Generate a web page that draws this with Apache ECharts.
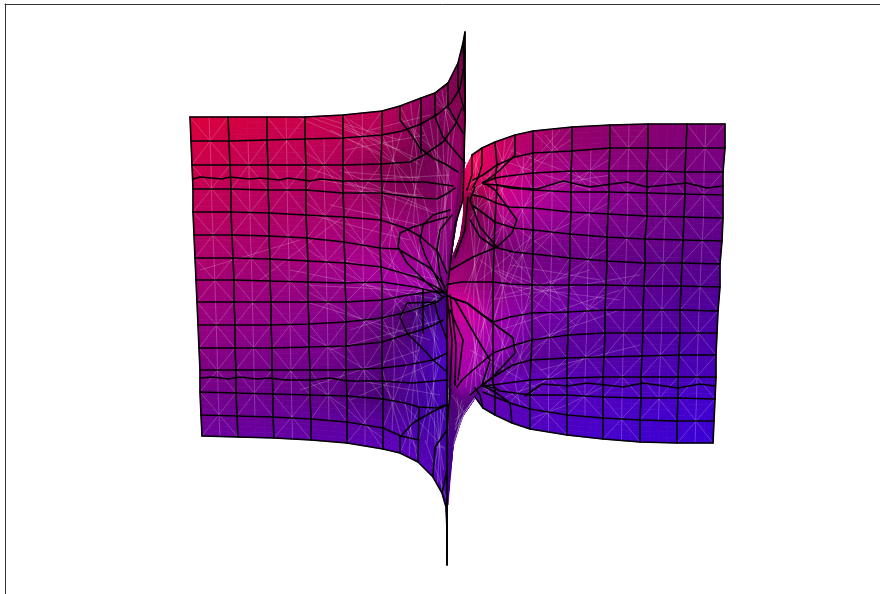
<!DOCTYPE html>
<html><head><meta charset="utf-8">
<style>html,body{margin:0;padding:0;background:#fff}#c{width:880px;height:594px}</style>
<script src="https://cdn.jsdelivr.net/npm/echarts@6/dist/echarts.min.js"></script>
</head><body><div id="c"></div>
<script>
const leftX=[
[190,228,267,305,343,382,400,421,435,448,458,463,465],
[191,229,267,305,343,382,402,421,438,451,460,464,465],
[192,230,268,306,343,381,410,424,443,455,462,465,465],
[193,231,268,306,343,382,410,437,448,455,460,464,463],
[193,231,269,306,344,381,405,421,438,447,447,448,455],
[194,232,269,307,344,380,398,430,440,445,446,447,451],
[195,233,270,308,345,381,416,436,442,445,446,447,449],
[196,234,270,308,345,382,415,435,444,446,446,447,447],
[197,234,271,308,346,382,408,423,437,444,446,447,447],
[198,235,271,309,346,382,403,422,437,445,446,447,447],
[199,235,272,309,346,382,411,424,436,443,446,447,447],
[200,236,272,310,346,382,407,433,441,447,447,447,447],
[200,236,273,310,347,383,405,419,437,445,447,447,447],
[201,237,273,311,347,383,401,419,435,445,447,447,447],
[202,238,274,311,347,383,400,418,433,442,446,447,447]];
const leftY=[
[117,117,117,117,115,111,106,98,93,83,63,43,32],
[141,141,140,139,138,135,131,124,114,103,88,66,50],
[165,165,165,165,165,164,162,155,142,125,108,90,120],
[189,189,190,190,193,193,197,199,193,188,170,150,200],
[212,212,213,215,217,220,228,237,252,273,279,283,225],
[235,235,236,238,242,248,249,268,280,287,290,291,258],
[258,258,259,261,263,267,277,287,291,294,294,294,275],
[280,280,281,282,283,282,287,292,293,292,292,292,291],
[302,302,302,302,302,300,295,293,291,291,292,293,295],
[325,325,325,324,322,318,313,307,302,296,296,297,300],
[348,348,348,347,346,342,333,329,324,320,316,314,320],
[370,370,370,370,370,368,365,360,356,353,350,348,350],
[392,393,394,395,396,399,403,407,408,405,403,403,400],
[415,416,417,419,422,428,436,440,447,447,450,470,480],
[436,437,438,440,443,449,453,462,477,493,507,530,565]];
const rightX=[
[725,687,648,610,572,533,515,495,482,472,467,463,462],
[725,686,648,610,572,533,515,497,483,473,468,464,463],
[723,685,647,609,571,533,508,495,483,467,465,464,464],
[723,685,647,609,571,533,510,497,483,472,468,465,463],
[723,684,647,608,571,533,510,496,483,473,470,464,460],
[722,683,645,607,570,533,514,495,483,472,470,462,455],
[720,682,645,607,570,533,514,494,480,470,465,455,450],
[720,681,644,606,569,532,510,493,475,462,455,450,447],
[718,680,643,605,568,532,510,493,480,467,457,450,447],
[717,680,643,605,568,532,515,493,473,462,457,450,447],
[716,679,642,604,567,531,513,493,482,470,462,452,448],
[716,678,641,603,567,530,500,493,483,475,465,455,449],
[715,678,641,603,567,530,500,495,483,476,464,455,448],
[714,677,640,603,567,530,510,495,483,476,463,454,448],
[713,677,640,603,567,530,512,495,483,475,462,453,448]];
const rightY=[
[124,124,124,125,127,131,135,142,148,155,165,177,190],
[148,148,148,148,151,153,157,165,175,180,185,195,200],
[172,172,171,171,171,173,176,178,183,190,195,202,206],
[195,194,193,192,192,190,188,185,184,190,200,210,218],
[218,217,216,214,212,208,207,203,197,195,205,225,238],
[241,240,239,237,234,230,228,222,213,205,225,240,250],
[264,263,263,261,258,254,252,247,237,220,240,257,262],
[287,286,286,285,285,285,284,282,282,282,283,284,285],
[311,310,310,310,312,313,317,322,313,303,300,297,295],
[333,333,333,333,335,340,345,353,370,380,387,360,330],
[355,355,356,357,358,360,365,377,385,395,400,395,370],
[377,377,377,377,378,380,384,385,386,397,410,420,400],
[399,398,398,397,395,395,391,388,386,397,413,430,440],
[421,421,420,418,415,409,403,397,392,397,416,440,470],
[443,443,442,439,435,429,423,415,408,397,417,447,505]];
const leftShade=[
[100,100,100,100,100,100,95,90,85,80,80,75,70],
[100,100,100,100,100,95,88,80,80,80,75,70,65],
[100,100,100,100,95,80,70,70,75,85,80,70,65],
[100,100,100,100,98,85,80,80,90,100,90,70,70],
[100,100,100,100,100,105,100,100,100,90,80,70,80],
[100,100,100,105,105,105,110,115,110,100,80,70,70],
[100,100,100,105,110,115,115,120,120,100,80,70,70],
[100,100,100,100,105,115,120,120,110,90,80,70,70],
[100,100,100,100,100,100,100,95,85,80,70,70,70],
[100,100,100,100,95,85,70,65,65,70,70,70,70],
[95,95,95,95,90,75,70,80,85,85,80,70,70],
[92,92,92,90,85,75,85,90,100,100,90,70,70],
[90,90,88,85,78,70,80,80,85,85,80,70,70],
[92,92,92,92,92,92,95,90,90,85,75,70,70],
[95,95,95,95,95,100,105,100,100,95,85,75,70]];
const rightShade=[
[95,95,95,95,95,105,105,110,120,125,120,100,90],
[95,95,95,95,100,105,110,110,115,120,115,100,90],
[95,95,95,100,110,115,120,115,110,100,90,80,80],
[95,95,100,105,115,120,125,120,100,80,70,70,70],
[90,90,92,100,110,120,125,120,90,70,65,70,70],
[88,88,90,92,100,105,105,100,85,70,70,70,70],
[86,86,86,88,90,90,85,85,85,80,80,75,70],
[86,86,88,92,100,98,100,95,95,100,105,110,110],
[88,88,90,95,105,105,115,120,130,130,130,120,110],
[90,90,90,90,92,95,110,120,120,120,110,100,90],
[92,92,92,92,90,88,90,90,100,90,80,75,70],
[95,95,95,95,100,105,110,90,80,75,70,70,70],
[100,100,100,100,100,100,95,90,85,80,70,70,70],
[100,100,100,100,100,100,100,100,100,95,85,75,70],
[100,100,100,100,100,100,100,100,100,95,85,75,70]];
// colour drift away from the plain corner blend, per column and per row
const leftHueCol=[0,0,0,0,0,.05,.15,.3,.35,.35,.3,.2,.2];
const leftHueRow=[.6,.5,.3,0,0,0,0,0,.3,1,1,1,.6,.2,0];
const rightHueCol=[0,0,0,0,0,-.05,-.12,-.2,-.28,-.32,-.32,-.32,-.32];
const rightHueRow=[1,1,1,1,.8,.5,.4,.8,1,1,.6,.4,.3,.2,.2];
// how far along each row the black mesh line is seen, and which columns run unbroken
const leftRowEnd=[12,12,10,9,9,9,9,9,9,9,9,9,9,7,12];
const rightRowEnd=[9,9,8,8,9,9,9,12,12,10,9,8,8,8,9];
const leftCols=[0,1,2,3,4,5,12];
const rightCols=[0,1,2,3,4,5,7];
const wobbleLines=[
[[193,179],[200,177],[222,179],[230,177],[250,179],[260,178],[280,180],[288,178],[310,181],[320,179],[343,181],[367,181],[400,182],[425,182],[453,186]],
[[200,378],[213,377],[228,379],[240,377],[257,379],[270,378],[285,380],[313,380],[330,378],[347,381],[380,381],[413,383],[447,380]],
[[723,186],[707,188],[687,183],[647,187],[627,182],[590,187],[563,181],[537,189],[520,188],[497,185]],
[[715,386],[700,384],[678,388],[643,383],[623,387],[587,383],[568,386],[542,384],[525,396]]];
const leftCurves=[
[[400,106],[400,120],[410,133],[420,148],[433,158],[447,165],[458,172]],
[[447,217],[413,227],[400,233],[398,247],[407,263],[427,283],[443,297]],
[[437,302],[407,303],[400,317],[407,333],[427,353],[433,360],[447,372]],
[[447,405],[432,412],[413,423],[400,437],[400,453]],
[[421,98],[421,153]],
[[423,290],[423,333]],
[[419,407],[418,462]],
[[435,93],[435,117],[443,137],[465,163]],
[[448,83],[448,107],[463,133]],
[[458,63],[458,87],[465,113]],
[[463,43],[464,66],[465,100]],
[[450,210],[433,215],[423,225],[420,240],[425,255],[435,275],[443,292]],
[[452,215],[440,230],[437,250],[440,275],[445,290]],
[[435,302],[437,313],[447,340]],
[[433,477],[435,447],[447,430]],
[[442,493],[447,470]]];
const rightCurves=[
[[515,135],[515,155],[500,170],[490,178],[483,183]],
[[482,148],[482,165],[478,178],[473,187]],
[[472,155],[472,175],[467,190]],
[[512,423],[510,403],[495,392],[483,386]],
[[483,408],[480,395],[475,388]],
[[483,182],[495,190],[517,220],[512,233],[497,247],[473,257],[450,270]],
[[450,297],[467,303],[480,313],[493,323],[513,338],[515,353],[493,377],[483,385]],
[[475,187],[470,200],[480,227],[497,247]],
[[468,197],[465,230],[455,257]],
[[455,300],[475,335],[490,360],[482,385]],
[[450,310],[463,340],[458,380]],
[[447,295],[452,340],[450,390],[447,430]],
[[450,295],[456,345],[455,385]]];
const faintStreaks=[
[297,117,380,153],[310,117,400,150],[320,117,400,140],[343,125,420,160],[330,130,400,165],
[300,165,440,215],[340,170,430,210],[320,180,440,200],[343,190,420,195],[345,172,420,178],
[290,270,440,300],[305,285,440,292],[340,260,440,280],[200,270,300,240],[260,280,345,215],
[300,300,430,340],[350,330,440,300],[330,350,440,320],[300,390,420,350],[350,400,440,360],
[500,160,590,190],[510,150,600,185],[520,190,610,175],[530,165,560,130],[545,135,590,190],
[500,270,600,310],[500,285,620,300],[490,300,640,275],[480,260,560,320],[505,250,575,325],
[500,330,620,290],[520,345,620,310],[540,370,640,345],[480,280,540,230],[470,350,540,390],
[370,130,430,115],[355,380,440,395],[400,400,445,450],[420,370,445,420],[425,440,447,500],
[345,150,425,135],[350,120,420,165],[330,205,420,225],[310,215,410,240],[360,180,450,175],
[510,265,600,280],[505,295,590,270],[495,270,560,300],[480,370,500,300],[500,215,560,260]];

const P0=[190,117],PW=535,PH=326;
const TL=[220,0,60],TR=[135,0,125],BL=[115,0,165],BR=[55,0,215];
function colorAt(x,y,s,h){
  const u=Math.max(0,Math.min(1,(x-P0[0])/PW+h)),v=Math.max(0,Math.min(1,(y-P0[1])/PH+h*0.4));
  const c=[0,1,2].map(i=>((TL[i]*(1-u)+TR[i]*u)*(1-v)+(BL[i]*(1-u)+BR[i]*u)*v)*s/100);
  return 'rgb('+c.map(v=>Math.round(Math.min(255,v))).join(',')+')';
}
function lerp(a,b,t){return a+(b-a)*t;}
function fillSeries(X,Y,S,hc,hr){
  const H=hr.map(w=>hc.map(k=>k*w));
  const SUB=4,cells=[];
  const at=(M,r,c,s,t)=>lerp(lerp(M[r][c],M[r][c+1],s),lerp(M[r+1][c],M[r+1][c+1],s),t);
  for(let r=0;r<X.length-1;r++)for(let c=0;c<X[0].length-1;c++)cells.push([X[r][c],Y[r][c],r,c]);
  return {type:'custom',coordinateSystem:'cartesian2d',silent:true,animation:false,z:1,progressive:0,clip:false,
    data:cells,encode:{x:0,y:1},
    renderItem(params,api){
      const r=api.value(2),c=api.value(3),kids=[];
      for(let i=0;i<SUB;i++)for(let j=0;j<SUB;j++){
        const q=[[j,i],[j+1,i],[j+1,i+1],[j,i+1]].map(o=>api.coord([at(X,r,c,o[0]/SUB,o[1]/SUB),at(Y,r,c,o[0]/SUB,o[1]/SUB)]));
        const s=(j+.5)/SUB,t=(i+.5)/SUB;
        const col=colorAt(at(X,r,c,s,t),at(Y,r,c,s,t),at(S,r,c,s,t),at(H,r,c,s,t));
        kids.push({type:'polygon',shape:{points:q},style:{fill:col,stroke:col,lineWidth:0.7}});
      }
      return {type:'group',children:kids};
    }};
}
function faintSeries(X,Y){
  const segs=[];
  const mid=(a,b)=>[(a[0]+b[0])/2,(a[1]+b[1])/2];
  const P=(r,c)=>[X[r][c],Y[r][c]];
  for(let c=0;c<X[0].length-1;c++){
    for(let r=(c%2);r<X.length-2;r+=2){
      const A=P(r,c),B=P(r,c+1),C=P(r+2,c+1),D=P(r+2,c);
      if(Math.abs(B[0]-A[0])<8||Math.abs(C[0]-D[0])<8)continue;
      const L=P(r+1,c),R=P(r+1,c+1),T=mid(A,B),Bo=mid(D,C),cen=mid(L,R);
      segs.push([...A,...C],[...B,...D],[...T,...Bo],[...L,...R]);
      if(c>=3){segs.push([...cen,...mid(A,L)],[...cen,...mid(C,R)]);}
    }
  }
  return segs;
}
function lineSeries(pts,w){
  return {type:'line',data:pts,showSymbol:false,symbol:'none',silent:true,animation:false,z:3,clip:false,
    lineStyle:{color:'#000',width:w||1.6,cap:'round',join:'round'}};
}
const series=[fillSeries(leftX,leftY,leftShade,leftHueCol,leftHueRow),fillSeries(rightX,rightY,rightShade,rightHueCol,rightHueRow)];
const allFaint=[...faintSeries(leftX,leftY),...faintSeries(rightX,rightY),...faintStreaks];
series.push({type:'custom',coordinateSystem:'cartesian2d',silent:true,animation:false,z:2,progressive:0,
  data:allFaint,encode:{x:0,y:1},
  renderItem(p,api){
    const a=api.coord([api.value(0),api.value(1)]),b=api.coord([api.value(2),api.value(3)]);
    return {type:'line',shape:{x1:a[0],y1:a[1],x2:b[0],y2:b[1]},style:{stroke:'rgba(255,255,255,0.26)',lineWidth:0.8}};
  }});
[[leftX,leftY,leftRowEnd,leftCols],[rightX,rightY,rightRowEnd,rightCols]].forEach(([X,Y,ends,cols])=>{
  X.forEach((row,r)=>series.push(lineSeries(row.slice(0,ends[r]+1).map((x,c)=>[x,Y[r][c]]))));
  cols.forEach(c=>series.push(lineSeries(X.map((row,r)=>[row[c],Y[r][c]]))));
});
wobbleLines.concat(leftCurves,rightCurves).forEach(l=>series.push(lineSeries(l)));

const axisBase={type:'value',axisTick:{show:false},axisLabel:{show:false},splitLine:{show:false},
  axisLine:{show:true,onZero:false,lineStyle:{color:'#333',width:1}}};
const chart=echarts.init(document.getElementById('c'),null,{renderer:'canvas'});
chart.setOption({animation:false,backgroundColor:'#fff',
  grid:{show:false,left:5,top:4,right:0,bottom:0},
  xAxis:{...axisBase,min:5,max:880,position:'top'},
  yAxis:{...axisBase,min:4,max:594,inverse:true,position:'left'},
  tooltip:{show:false},legend:{show:false},series});
</script></body></html>
